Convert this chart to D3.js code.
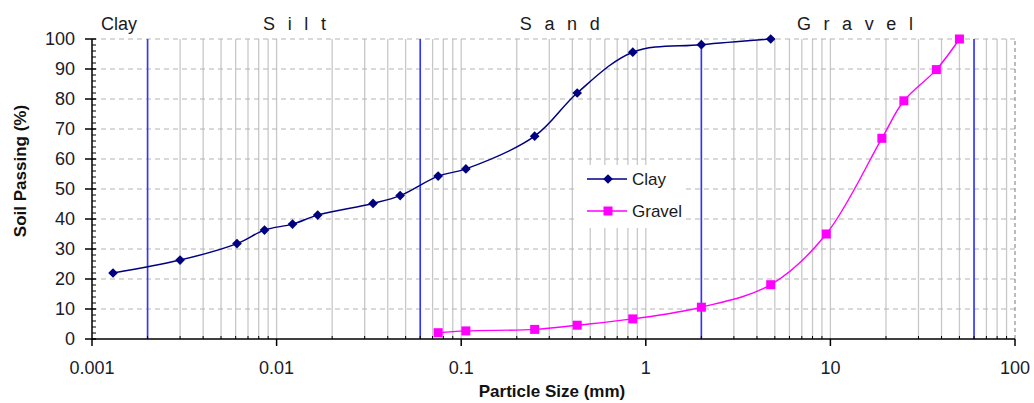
<!DOCTYPE html>
<html>
<head>
<meta charset="utf-8">
<script src="https://cdn.jsdelivr.net/npm/d3@7"></script>
<style>
  body { margin: 0; background: #fff; }
  text { font-family: Arial, "Liberation Sans", sans-serif; }
</style>
</head>
<body>
<div id="chart"></div>
<script>
// Grain size data (mm vs % passing)
const clayMm = [0.0013, 0.0030, 0.0061, 0.0086, 0.0122, 0.0167, 0.0333, 0.0467, 0.075, 0.106, 0.25, 0.425, 0.85, 2.0, 4.75];
const clayPass = [22.0, 26.3, 31.8, 36.3, 38.3, 41.3, 45.2, 47.8, 54.3, 56.7, 67.6, 82.0, 95.6, 98.1, 100];

const gravelMm = [0.075, 0.106, 0.25, 0.425, 0.85, 2.0, 4.75, 9.5, 19, 25, 37.5, 50];
const gravelPass = [2.1, 2.7, 3.2, 4.6, 6.7, 10.6, 18.1, 35.0, 66.9, 79.4, 89.8, 100];

// Soil class boundaries
const boundaryMm = [0.002, 0.06, 2, 60];
const boundaryTop = [100, 100, 98, 100];

const zoneLabels = ["Clay", "S i l t", "S a n d", "G r a v e l"];
const zoneLabelMm = [0.0014, 0.0128, 0.35, 13.9];

const xTickValues = [0.001, 0.01, 0.1, 1, 10, 100];
const xTickLabels = ["0.001", "0.01", "0.1", "1", "10", "100"];
const yTickValues = d3.range(0, 101, 10);

const width = 1034;
const height = 403;
const margin = { top: 39, right: 19, bottom: 64, left: 92 };

const x = d3.scaleLog()
  .domain([0.001, 100])
  .range([margin.left, width - margin.right]);

const y = d3.scaleLinear()
  .domain([0, 100])
  .range([height - margin.bottom, margin.top]);

const svg = d3.select("#chart")
  .append("svg")
  .attr("width", width)
  .attr("height", height)
  .attr("viewBox", [0, 0, width, height]);

// minor log values (2..9 in each decade, plus decades)
const minorX = [];
for (let e = -3; e < 2; e++) {
  for (let m = 1; m <= 9; m++) {
    const v = m * Math.pow(10, e);
    if (v > 0.001) minorX.push(v);
  }
}

// vertical gridlines
svg.append("g")
  .selectAll("line")
  .data(minorX.filter(v => v < 100))
  .join("line")
  .attr("x1", d => x(d)).attr("x2", d => x(d))
  .attr("y1", y(0)).attr("y2", y(100))
  .attr("stroke", "#c8c8c8")
  .attr("stroke-width", 1.3);

// horizontal dashed gridlines
svg.append("g")
  .selectAll("line")
  .data(yTickValues.filter(v => v > 0))
  .join("line")
  .attr("x1", x(0.001)).attr("x2", x(100))
  .attr("y1", d => y(d)).attr("y2", d => y(d))
  .attr("stroke", "#b4b4b4")
  .attr("stroke-width", 1.2)
  .attr("stroke-dasharray", "5,4");

// right border
svg.append("line")
  .attr("x1", x(100)).attr("x2", x(100))
  .attr("y1", y(0)).attr("y2", y(100))
  .attr("stroke", "#909090")
  .attr("stroke-width", 1.2)
  .attr("stroke-dasharray", "4,3");

// legend box (covers the grid)
const legend = svg.append("g").attr("transform", "translate(575,165)");
legend.append("rect")
  .attr("width", 111).attr("height", 63)
  .attr("fill", "#fff");

// class boundaries
svg.append("g")
  .selectAll("line")
  .data(boundaryMm)
  .join("line")
  .attr("x1", d => x(d)).attr("x2", d => x(d))
  .attr("y1", y(0)).attr("y2", (d, i) => y(boundaryTop[i]))
  .attr("stroke", "#3333ff")
  .attr("stroke-width", 1.6);

// axes
const xAxis = svg.append("g");
xAxis.append("line")
  .attr("x1", x(0.001)).attr("x2", x(100))
  .attr("y1", y(0)).attr("y2", y(0))
  .attr("stroke", "#000").attr("stroke-width", 1.5);
xAxis.selectAll(".minor")
  .data(minorX.filter(v => !xTickValues.includes(v)))
  .join("line")
  .attr("x1", d => x(d)).attr("x2", d => x(d))
  .attr("y1", y(0)).attr("y2", y(0) - 3)
  .attr("stroke", "#000");
xAxis.selectAll(".major")
  .data(xTickValues)
  .join("line")
  .attr("x1", d => x(d)).attr("x2", d => x(d))
  .attr("y1", y(0)).attr("y2", y(0) + 7)
  .attr("stroke", "#000").attr("stroke-width", 1.5);
xAxis.selectAll("text")
  .data(xTickValues)
  .join("text")
  .attr("x", d => x(d))
  .attr("y", y(0) + 35)
  .attr("text-anchor", "middle")
  .attr("font-size", 18)
  .attr("fill", "#1a1a2a")
  .text((d, i) => xTickLabels[i]);

const yAxis = svg.append("g");
yAxis.append("line")
  .attr("x1", x(0.001)).attr("x2", x(0.001))
  .attr("y1", y(0)).attr("y2", y(100))
  .attr("stroke", "#000").attr("stroke-width", 1.5);
yAxis.selectAll(".minor")
  .data(d3.range(2, 100, 2).filter(v => v % 10 !== 0))
  .join("line")
  .attr("x1", x(0.001)).attr("x2", x(0.001) + 4)
  .attr("y1", d => y(d)).attr("y2", d => y(d))
  .attr("stroke", "#000");
yAxis.selectAll(".major")
  .data(yTickValues)
  .join("line")
  .attr("x1", x(0.001) - 7).attr("x2", x(0.001) + 4)
  .attr("y1", d => y(d)).attr("y2", d => y(d))
  .attr("stroke", "#000").attr("stroke-width", 1.5);
yAxis.selectAll("text")
  .data(yTickValues)
  .join("text")
  .attr("x", x(0.001) - 17)
  .attr("y", d => y(d))
  .attr("dy", "0.36em")
  .attr("text-anchor", "end")
  .attr("font-size", 18)
  .attr("fill", "#1a1a2a")
  .text(d => d);

// axis titles
svg.append("text")
  .attr("x", 552)
  .attr("y", 397)
  .attr("text-anchor", "middle")
  .attr("font-size", 17)
  .attr("font-weight", "bold")
  .attr("fill", "#111")
  .text("Particle Size (mm)");

svg.append("text")
  .attr("transform", "translate(26,171) rotate(-90)")
  .attr("text-anchor", "middle")
  .attr("font-size", 17)
  .attr("font-weight", "bold")
  .attr("fill", "#111")
  .text("Soil Passing (%)");

// zone labels
svg.append("g")
  .selectAll("text")
  .data(zoneLabels)
  .join("text")
  .attr("x", (d, i) => x(zoneLabelMm[i]))
  .attr("y", 30)
  .attr("text-anchor", "middle")
  .attr("font-size", 18)
  .attr("letter-spacing", (d, i) => i === 0 ? 0 : 3.8)
  .attr("fill", "#1a1a1a")
  .text(d => d);

// series
const line = d3.line()
  .x(d => x(d[0]))
  .y(d => y(d[1]))
  .curve(d3.curveCatmullRom.alpha(0.5));

const clayData = clayMm.map((v, i) => [v, clayPass[i]]);
const gravelData = gravelMm.map((v, i) => [v, gravelPass[i]]);

svg.append("path")
  .datum(gravelData)
  .attr("fill", "none")
  .attr("stroke", "#ff00ff")
  .attr("stroke-width", 1.4)
  .attr("d", line);

svg.append("g")
  .selectAll("rect")
  .data(gravelData)
  .join("rect")
  .attr("x", d => x(d[0]) - 4.5)
  .attr("y", d => y(d[1]) - 4.5)
  .attr("width", 9).attr("height", 9)
  .attr("fill", "#ff00ff");

svg.append("path")
  .datum(clayData)
  .attr("fill", "none")
  .attr("stroke", "#000080")
  .attr("stroke-width", 1.5)
  .attr("d", line);

const diamond = d3.symbol().type(d3.symbolDiamond2).size(60);
svg.append("g")
  .selectAll("path")
  .data(clayData)
  .join("path")
  .attr("transform", d => `translate(${x(d[0])},${y(d[1])})`)
  .attr("d", diamond)
  .attr("fill", "#000080");

// legend entries
const legendItems = [
  { name: "Clay", color: "#000080", shape: "diamond" },
  { name: "Gravel", color: "#ff00ff", shape: "square" }
];
const rows = legend.selectAll(".row")
  .data(legendItems)
  .join("g")
  .attr("transform", (d, i) => `translate(0,${14 + i * 32})`);
rows.append("line")
  .attr("x1", 12).attr("x2", 52)
  .attr("stroke", d => d.color)
  .attr("stroke-width", 1.5);
rows.append("path")
  .attr("transform", "translate(33,0)")
  .attr("d", d => d.shape === "diamond" ? diamond() : d3.symbol().type(d3.symbolSquare).size(81)())
  .attr("fill", d => d.color);
rows.append("text")
  .attr("x", 57)
  .attr("dy", "0.36em")
  .attr("font-size", 17)
  .attr("fill", "#1a1a1a")
  .text(d => d.name);
</script>
</body>
</html>
